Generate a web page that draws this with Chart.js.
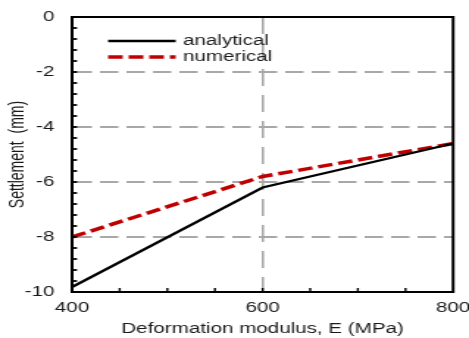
<!DOCTYPE html>
<html><head><meta charset="utf-8">
<script src="https://cdn.jsdelivr.net/npm/chart.js@4/dist/chart.umd.min.js"></script>
<style>
html,body{margin:0;padding:0;background:#fff;overflow:hidden}
#wrap{width:319px;height:338px;transform:scaleX(1.4702);transform-origin:0 0}
</style>
</head><body><div id="wrap"><canvas id="c" width="319" height="338"></canvas></div>
<script>
const modulus = [400, 600, 800];
const analytical = [-9.82, -6.2, -4.6];
const numerical = [-8.0, -5.8, -4.6];
const xTicks = [400, 600, 800];
const yTicks = [0, -2, -4, -6, -8, -10];
const FONT = "'Liberation Sans', Arial, sans-serif";

const frame = {
  id: 'frame',
  afterDatasetsDraw(chart) {
    const {ctx, chartArea: a, scales: {x, y}} = chart;
    ctx.save();
    ctx.strokeStyle = '#000';
    ctx.lineWidth = 1.4;
    for (let v = 450; v < 800; v += 50) {
      const px = x.getPixelForValue(v);
      ctx.beginPath(); ctx.moveTo(px, a.bottom); ctx.lineTo(px, a.bottom - 4); ctx.stroke();
    }
    ctx.lineWidth = 1.8;
    for (let i = 1; i < 25; i++) {
      const py = y.getPixelForValue(-0.4 * i);
      ctx.beginPath(); ctx.moveTo(a.left, py); ctx.lineTo(a.left + 3.4, py); ctx.stroke();
    }
    ctx.lineWidth = 2;
    ctx.strokeRect(a.left, a.top, a.right - a.left, a.bottom - a.top);
    // legend
    let ly = a.top + 24;
    chart.data.datasets.forEach(ds => {
      ctx.beginPath();
      ctx.strokeStyle = ds.borderColor;
      ctx.lineWidth = ds.borderWidth;
      ctx.setLineDash(ds.borderDash || []);
      ctx.moveTo(73.5, ly); ctx.lineTo(119.5, ly); ctx.stroke();
      ctx.setLineDash([]);
      ctx.fillStyle = '#1a1a1a';
      ctx.font = '14px ' + FONT;
      ctx.textBaseline = 'middle';
      ctx.fillText(ds.label, 124.5, ly);
      ly += 16;
    });
    ctx.restore();
  }
};

new Chart(document.getElementById('c'), {
  type: 'line',
  data: {
    datasets: [
      {label: 'analytical', data: modulus.map((m, i) => ({x: m, y: analytical[i]})), borderColor: '#000', borderWidth: 2.3, pointRadius: 0, tension: 0},
      {label: 'numerical', data: modulus.map((m, i) => ({x: m, y: numerical[i]})), borderColor: '#c00000', borderWidth: 3.5, borderDash: [10, 4], pointRadius: 0, tension: 0}
    ]
  },
  plugins: [frame],
  options: {
    responsive: false,
    animation: false,
    devicePixelRatio: 1,
    layout: {padding: {top: 17, right: 10.8, left: 0, bottom: 0}},
    plugins: {legend: {display: false}, tooltip: {enabled: false}},
    scales: {
      x: {
        type: 'linear', min: 400, max: 800,
        afterBuildTicks: s => { s.ticks = xTicks.map(v => ({value: v})); },
        afterFit: s => { s.height = 46; s.paddingLeft = 0; s.paddingRight = 0; },
        ticks: {color: '#1a1a1a', font: {family: FONT, size: 14}, padding: 8, maxRotation: 0},
        grid: {drawTicks: false, color: c => c.tick && c.tick.value === 600 ? '#a8a8a8' : 'rgba(0,0,0,0)', lineWidth: 1.6},
        border: {display: true, color: '#000', width: 2, dash: [17, 9]},
        title: {display: true, text: 'Deformation modulus, E (MPa)', color: '#1a1a1a', font: {family: FONT, size: 14}, padding: {top: -2, bottom: 0}}
      },
      y: {
        type: 'linear', min: -10, max: 0,
        afterBuildTicks: s => { s.ticks = yTicks.map(v => ({value: v})); },
        afterFit: s => { s.width = 49; s.paddingTop = 0; s.paddingBottom = 0; },
        ticks: {color: '#1a1a1a', font: {family: FONT, size: 14}, padding: 12},
        grid: {drawTicks: false, color: c => c.tick && c.tick.value > -10 && c.tick.value < 0 ? '#a8a8a8' : 'rgba(0,0,0,0)', lineWidth: 1.9},
        border: {display: true, color: '#000', width: 2, dash: [12.5, 5.5]},
        title: {display: true, text: 'Settlement  (mm)', color: '#1a1a1a', font: {family: FONT, size: 14}, padding: {top: 4, bottom: 0}}
      }
    }
  }
});
</script></body></html>
